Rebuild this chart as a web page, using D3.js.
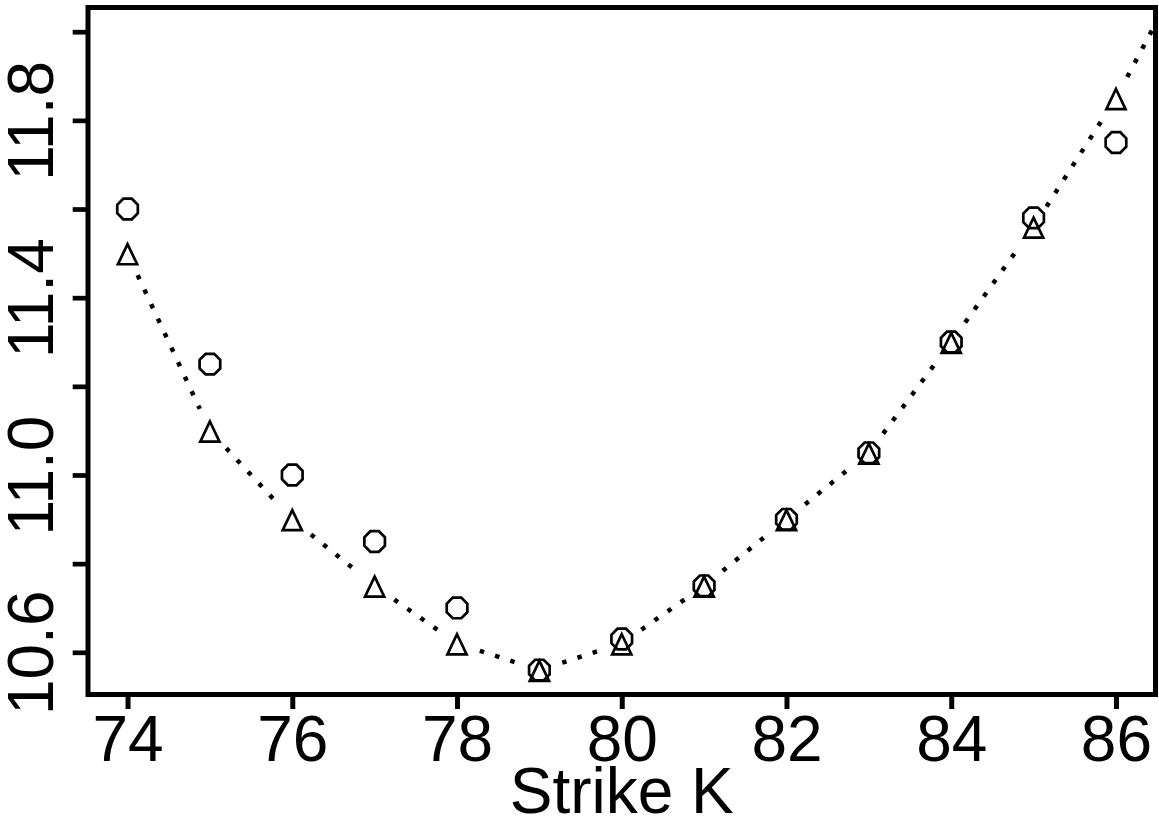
<!DOCTYPE html>
<html><head><meta charset="utf-8">
<script src="https://cdn.jsdelivr.net/npm/d3@7"></script>
<style>body{margin:0;background:#fff} svg{display:block}</style>
</head><body>
<script>
// ---- data ----
const strikes = [74,75,76,77,78,79,80,81,82,83,84,85,86];
const marketVols = [11.60,11.25,11.00,10.85,10.70,10.56,10.63,10.75,10.90,11.05,11.30,11.58,11.75];
const modelStrikes = [74,75,76,77,78,79,80,81,82,83,84,85,86,87];
const modelVols = [11.50,11.10,10.90,10.75,10.62,10.56,10.62,10.75,10.90,11.05,11.30,11.56,11.85,12.20];
const xTicks = [74,76,78,80,82,84,86];
const yTicks = [10.6,10.8,11.0,11.2,11.4,11.6,11.8,12.0];
const yLabels = [10.6,11.0,11.4,11.8];
const xTitle = "Strike K";

// ---- layout ----
const W = 1159, H = 819;
const L = 88, R = 1155.5, T = 7.5, B = 694.5;
const FONT = "'Liberation Sans', Arial, Helvetica, sans-serif";
const FS = 64;

const svg = d3.select("body").append("svg").attr("width", W).attr("height", H);

const x = d3.scaleLinear().domain([73.52, 86.48]).range([L, R]);
const y = d3.scaleLinear().domain([10.5048, 12.0546]).range([B, T]);

svg.append("defs").append("clipPath").attr("id", "plotclip")
  .append("rect").attr("x", L).attr("y", T).attr("width", R - L).attr("height", B - T);

const plot = svg.append("g").attr("clip-path", "url(#plotclip)");

// dotted model line (type "b": segments with gaps around the points)
const gap = 24;
const line = d3.line();
for (let i = 0; i < modelStrikes.length - 1; i++) {
  const x0 = x(modelStrikes[i]), y0 = y(modelVols[i]);
  const x1 = x(modelStrikes[i + 1]), y1 = y(modelVols[i + 1]);
  const dx = x1 - x0, dy = y1 - y0, d = Math.hypot(dx, dy);
  if (d <= 2 * gap) continue;
  const ux = dx / d, uy = dy / d;
  plot.append("path")
    .attr("d", line([[x0 + ux * gap, y0 + uy * gap], [x1 - ux * gap, y1 - uy * gap]]))
    .attr("fill", "none").attr("stroke", "#000")
    .attr("stroke-width", 4.5).attr("stroke-dasharray", "4.5,11.5")
    .attr("stroke-linecap", "butt");
}

// triangle markers (model)
const tri = "M0,-9.2L9.6,10.9L-9.6,10.9Z";
plot.selectAll("path.tri").data(modelStrikes).join("path")
  .attr("class", "tri")
  .attr("transform", (d, i) => `translate(${x(d)},${y(modelVols[i])})`)
  .attr("d", tri)
  .attr("fill", "none").attr("stroke", "#000").attr("stroke-width", 2.7)
  .attr("stroke-linejoin", "miter");

// octagon markers (market)
const oct = d3.line()(d3.range(8).map(k => {
  const a = (22.5 + 45 * k) * Math.PI / 180;
  return [11.15 * Math.cos(a), 11.15 * Math.sin(a)];
})) + "Z";
plot.selectAll("path.oct").data(strikes).join("path")
  .attr("class", "oct")
  .attr("transform", (d, i) => `translate(${x(d)},${y(marketVols[i])})`)
  .attr("d", oct)
  .attr("fill", "none").attr("stroke", "#000").attr("stroke-width", 2.7);

// x axis
const gx = svg.append("g").attr("transform", `translate(0,${B})`)
  .call(d3.axisBottom(x).tickValues(xTicks).tickSize(14.5).tickSizeOuter(0).tickFormat(d3.format("d")));
gx.select(".domain").remove();
gx.selectAll(".tick line").attr("stroke", "#000").attr("stroke-width", 5);
gx.selectAll(".tick text").attr("y", 66.5).attr("dy", null)
  .attr("font-family", FONT).attr("font-size", FS).attr("fill", "#000");

// y axis
const gy = svg.append("g").attr("transform", `translate(${L},0)`)
  .call(d3.axisLeft(y).tickValues(yTicks).tickSize(15.3).tickSizeOuter(0)
    .tickFormat(d => yLabels.some(v => Math.abs(v - d) < 1e-9) ? d3.format(".1f")(d) : ""));
gy.select(".domain").remove();
gy.selectAll(".tick line").attr("stroke", "#000").attr("stroke-width", 4.7);
gy.selectAll(".tick text")
  .attr("x", null).attr("y", null).attr("dy", null)
  .attr("text-anchor", "middle")
  .attr("transform", "translate(-34.7,0) rotate(-90)")
  .attr("font-family", FONT).attr("font-size", FS).attr("fill", "#000");

// box
svg.append("rect").attr("x", L).attr("y", T).attr("width", R - L).attr("height", B - T)
  .attr("fill", "none").attr("stroke", "#000").attr("stroke-width", 5);

// x title
svg.append("text").attr("x", (L + R) / 2).attr("y", 812.5)
  .attr("text-anchor", "middle").attr("font-family", FONT).attr("font-size", FS)
  .attr("fill", "#000").text(xTitle);
</script>
</body></html>
